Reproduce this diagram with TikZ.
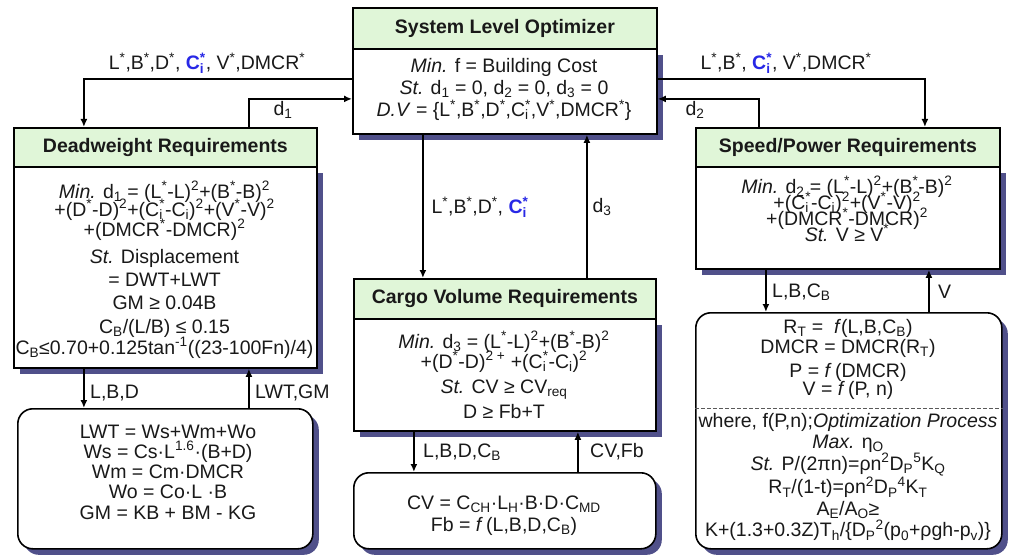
\documentclass[tikz,border=0pt]{standalone}
\usepackage{fontspec}
\setmainfont{Liberation Sans}
\usetikzlibrary{arrows.meta,shadows}
\definecolor{hdrgreen}{RGB}{224,246,216}
\definecolor{shadowc}{RGB}{80,80,138}
\definecolor{cblue}{RGB}{40,40,230}
\definecolor{ink}{RGB}{25,25,25}
\newcommand{\Sx}{\textsuperscript{*}}
\newcommand{\Sq}{\textsuperscript{2}}
\newcommand{\Ci}{C\rlap{\textsubscript{i}}\textsuperscript{*}}
\newcommand{\Cb}{\textbf{\color{cblue}C\rlap{\textsubscript{i}}\textsuperscript{*}}}
\newcommand{\Sub}[1]{\textsubscript{#1}}
\newcommand{\Sup}[1]{\textsuperscript{#1}}
\begin{document}
\begin{tikzpicture}[x=1pt,y=-1pt,
  font=\fontsize{19.5}{22}\selectfont, text=ink,
  shd/.style={drop shadow={shadow xshift=6pt,shadow yshift=-6pt,fill=shadowc,opacity=1}},
  hdr/.style={draw=black,line width=1.8pt,fill=hdrgreen,anchor=north west,inner sep=0pt,
    font=\bfseries\fontsize{19.5}{22}\selectfont},
  body/.style={draw=black,line width=1.8pt,fill=white,anchor=north west,inner sep=0pt,shd},
  rbox/.style={draw=black,line width=1.6pt,rounded corners=15pt,fill=white,anchor=north west,inner sep=0pt,shd},
  txt/.style={align=center,inner sep=0pt},
  lbl/.style={inner sep=0pt},
  arr/.style={line width=1.6pt,-{Latex[length=8pt,width=7pt]}}]
\fill[white] (0,0) rectangle (1011,559);
\useasboundingbox (0,0) rectangle (1011,559);

% System level optimizer
\node[hdr,minimum width=304pt,minimum height=41pt] (sloH) at (352,7) {System Level Optimizer};
\node[body,minimum width=304pt,minimum height=85pt] (sloB) at (352,48) {};
\node[txt] (sloT) at (504,89.5) {\textit{Min.} f = Building Cost\\
\textit{St.} d\Sub{1} = 0, d\Sub{2} = 0, d\Sub{3} = 0\\
\textit{D.V} = \{L\Sx,B\Sx,D\Sx,\Ci,V\Sx,DMCR\Sx\}};

% Deadweight
\node[hdr,minimum width=303pt,minimum height=39pt] (dwH) at (13,127) {Deadweight Requirements};
\node[body,minimum width=303pt,minimum height=201pt] (dwB) at (13,166) {};
\node[txt] (dwT) at (164.5,270) {\textit{Min.} d\Sub{1} = (L\Sx-L)\Sq+(B\Sx-B)\Sq\\[-4pt]
+(D\Sx-D)\Sq+(\Ci-C\Sub{i})\Sq+(V\Sx-V)\Sq\\[-2pt]
+(DMCR\Sx-DMCR)\Sq\\[5pt]
\textit{St.} Displacement\\[1pt]
= DWT+LWT\\[1pt]
GM ≥ 0.04B\\[2pt]
C\Sub{B}/(L/B) ≤ 0.15\\[-1pt]
C\Sub{B}≤0.70+0.125tan\Sup{-1}((23-100Fn)/4)};

% Speed/Power
\node[hdr,minimum width=304pt,minimum height=39pt] (spH) at (695,127) {Speed/Power Requirements};
\node[body,minimum width=304pt,minimum height=102pt] (spB) at (695,166) {};
\node[txt] (spT) at (847,209) {\textit{Min.} d\Sub{2} = (L\Sx-L)\Sq+(B\Sx-B)\Sq\\[-6pt]
+(\Ci-C\Sub{i})\Sq+(V\Sx-V)\Sq\\[-6pt]
+(DMCR\Sx-DMCR)\Sq\\[-6pt]
\textit{St.} V ≥ V\Sx};

% Cargo volume
\node[hdr,minimum width=302pt,minimum height=40pt] (cvH) at (353,278) {Cargo Volume Requirements};
\node[body,minimum width=302pt,minimum height=112pt] (cvB) at (353,318) {};
\node[txt] (cvT) at (504,375) {\textit{Min.} d\Sub{3} = (L\Sx-L)\Sq+(B\Sx-B)\Sq\\[-2pt]
+(D\Sx-D)\Sup{2 +} +(\Ci-C\Sub{i})\Sq\\[3pt]
\textit{St.} CV ≥ CV\Sub{req}\\[3pt]
D ≥ Fb+T};

% Lower boxes
\node[rbox,minimum width=295pt,minimum height=140pt] (blF) at (17,408) {};
\node[txt,font=\fontsize{19.5}{20.3}\selectfont] (blT) at (168,472) {LWT = Ws+Wm+Wo\\
Ws = Cs·L\Sup{1.6}·(B+D)\\
Wm = Cm·DMCR\\
Wo = Co·L ·B\\
GM = KB + BM - KG};

\node[rbox,minimum width=302pt,minimum height=76pt] (cvbF) at (353,472) {};
\node[txt] (cvbT) at (504,516) {CV = C\Sub{CH}·L\Sub{H}·B·D·C\Sub{MD}\\
Fb = \textit{f}\,(L,B,D,C\Sub{B})};

\node[rbox,minimum width=306pt,minimum height=236pt] (spbF) at (695,312) {};
\node[txt] (spbT1) at (848,359) {R\Sub{T} = \ \textit{f}(L,B,C\Sub{B})\\[-2pt]
DMCR = DMCR(R\Sub{T})\\[2pt]
P = \textit{f}\,(DMCR)\\[-4pt]
V = \textit{f}\,(P, n)};
\node[txt,font=\fontsize{19.5}{21.5}\selectfont] (spbT2) at (848,477) {where, f(P,n);\textit{Optimization Process}\\
\textit{Max.} η\Sub{O}\\
\textit{St.} P/(2πn)=ρn\Sq D\Sub{P}\Sup{5}K\Sub{Q}\\
R\Sub{T}/(1-t)=ρn\Sq D\Sub{P}\Sup{4}K\Sub{T}\\
A\Sub{E}/A\Sub{O}≥\\
K+(1.3+0.3Z)T\Sub{h}/\{D\Sub{P}\Sup{2}(p\Sub{0}+ρgh-p\Sub{v})\}};
\draw[line width=0.8pt,draw=black!65,dash pattern=on 4pt off 2pt]
  ([yshift=22pt]spbF.west) -- ([yshift=22pt]spbF.east);

% Connectors top
\draw[arr] ([yshift=12.5pt]sloB.west) -| ([xshift=-81.5pt]dwH.north);
\draw[arr] ([xshift=83.5pt]dwH.north) |- ([yshift=-7.5pt]sloB.west);
\draw[arr] ([yshift=12.5pt]sloB.east) -| ([xshift=77pt]spH.north);
\draw[arr] ([xshift=-89pt]spH.north) |- ([yshift=-7.5pt]sloB.east);
\draw[arr] ([xshift=-82pt]sloB.south) -- ([xshift=-82pt]sloB.south |- cvH.north);
\draw[arr] ([xshift=82pt]cvH.north) -- ([xshift=82pt]cvH.north |- sloB.south);

% Connectors bottom
\draw[arr] ([xshift=-81.5pt]dwB.south) -- ([xshift=-81.5pt]dwB.south |- blF.north);
\draw[arr] ([xshift=83.5pt]dwB.south |- blF.north) -- ([xshift=83.5pt]dwB.south);
\draw[arr] ([xshift=-91pt]cvB.south) -- ([xshift=-91pt]cvB.south |- cvbF.north);
\draw[arr] ([xshift=73pt]cvB.south |- cvbF.north) -- ([xshift=73pt]cvB.south);
\draw[arr] ([xshift=-82pt]spB.south) -- ([xshift=-82pt]spB.south |- spbF.north);
\draw[arr] ([xshift=81pt]spB.south |- spbF.north) -- ([xshift=81pt]spB.south);

% Labels
\node[lbl] (l1) at (207,63) {L\Sx,B\Sx,D\Sx, \Cb, V\Sx,DMCR\Sx};
\node[lbl] (l2) at (283,110) {d\Sub{1}};
\node[lbl] (l3) at (786,63) {L\Sx,B\Sx, \Cb, V\Sx,DMCR\Sx};
\node[lbl] (l4) at (695,110) {d\Sub{2}};
\node[lbl] (l5) at (480,207) {L\Sx,B\Sx,D\Sx, \Cb};
\node[lbl] (l6) at (602,207) {d\Sub{3}};
\node[lbl,anchor=west] (l7) at (90,393) {L,B,D};
\node[lbl,anchor=west] (l8) at (255,393) {LWT,GM};
\node[lbl,anchor=west] (l9) at (423,452) {L,B,D,C\Sub{B}};
\node[lbl,anchor=west] (l10) at (590,452) {CV,Fb};
\node[lbl,anchor=west] (l11) at (772,292) {L,B,C\Sub{B}};
\node[lbl,anchor=west] (l12) at (938,292) {V};
\end{tikzpicture}
\end{document}
